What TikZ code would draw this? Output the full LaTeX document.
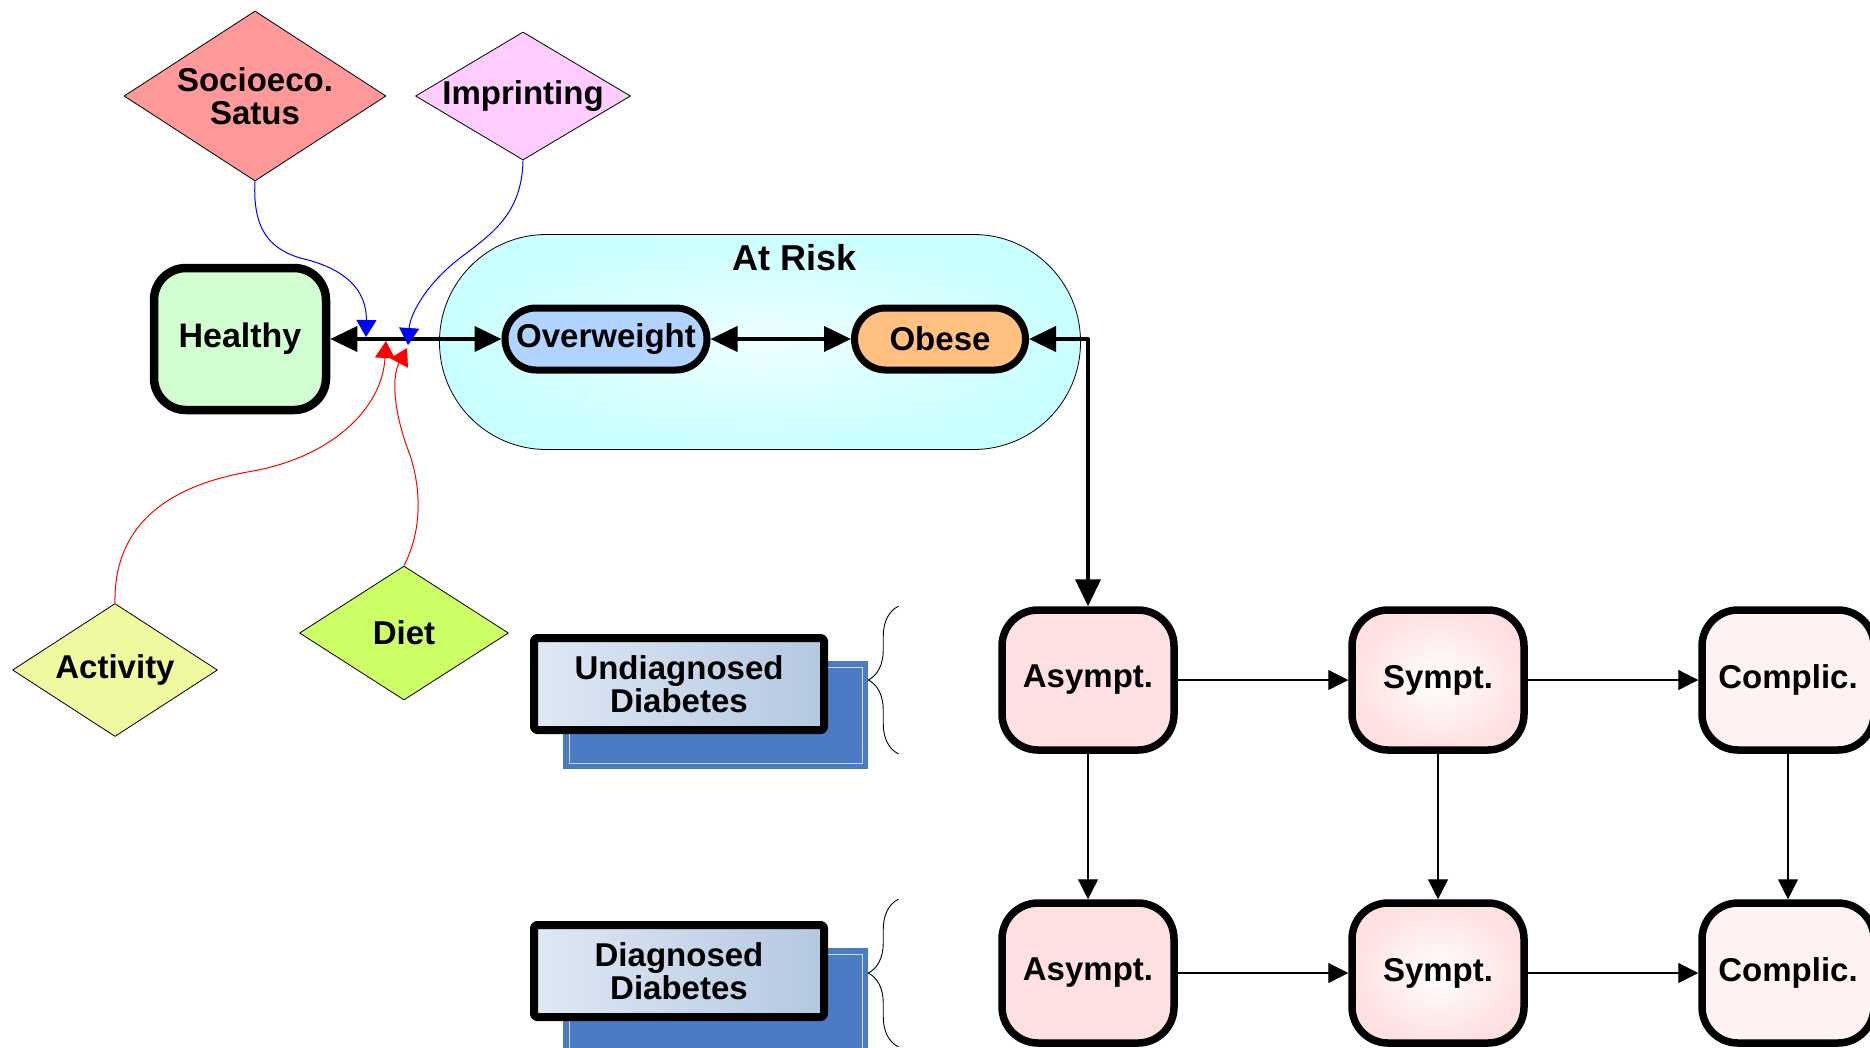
\documentclass[tikz,border=0pt]{standalone}
\usepackage{fontspec}
\setmainfont{Liberation Sans}
\usetikzlibrary{arrows.meta,calc,positioning,shapes.geometric,decorations.pathreplacing}
\definecolor{dmSocio}{HTML}{FF9999}
\definecolor{dmImprint}{HTML}{FFCCFF}
\definecolor{dmActive}{HTML}{F0F8A0}
\definecolor{dmDiet}{HTML}{CCFF66}
\definecolor{dmHealthy}{HTML}{D2FFD2}
\definecolor{dmCyan}{HTML}{C8FFFF}
\definecolor{dmOver}{HTML}{B0D4FF}
\definecolor{dmObese}{HTML}{FFC080}
\definecolor{dmPink}{HTML}{FFE0E0}
\definecolor{dmPale}{HTML}{FFF2F2}
\definecolor{dmSteelA}{HTML}{DFE8F4}
\definecolor{dmSteelB}{HTML}{B4C8E2}
\definecolor{dmBlue}{HTML}{4A7BC4}

\begin{document}
\begin{tikzpicture}[x=1pt,y=-1pt,line cap=round,line join=round]
\path[use as bounding box,fill=white] (0,0) rectangle (1870,1047);
\clip (0,0) rectangle (1870,1047);
\tikzset{lbl/.style={font=\bfseries\fontsize{33}{33}\selectfont,align=center},factor/.style={lbl,diamond,draw=black,line width=0.8pt,inner sep=0pt},statebox/.style={lbl,font=\bfseries\fontsize{34}{33}\selectfont,draw=black,line width=8.5pt,rounded corners=32pt},pill/.style={lbl,draw=black,line width=7pt,rounded corners=31pt,minimum height=62pt},stage/.style={lbl,draw=black,line width=7.5pt,rounded corners=36pt,minimum width=172pt,minimum height=140pt},groupbox/.style={lbl,draw=black,line width=8pt,rounded corners=3pt,minimum width=290pt,minimum height=92pt,left color=dmSteelA,right color=dmSteelB},twoway/.style={line width=4pt,line cap=butt,{Triangle[length=27pt,width=25pt]}-{Triangle[length=27pt,width=25pt]}},flow/.style={line width=1.2pt,line cap=butt,-{Triangle[length=20pt,width=20pt]}},push/.style={line width=1pt,line cap=butt,-{Triangle[length=17pt,width=20pt]}}}
\node[factor,fill=dmSocio,aspect=1.54,minimum width=262pt,minimum height=170pt] (socio) at (255,96) {Socioeco.\\Satus};
\node[factor,fill=dmImprint,aspect=1.68,minimum width=215pt,minimum height=128pt] (imprint) at (523,96) {Imprinting};
\node[factor,fill=dmActive,aspect=1.54,minimum width=205pt,minimum height=133pt] (activity) at (115,670) {Activity};
\node[factor,fill=dmDiet,aspect=1.56,minimum width=209pt,minimum height=134pt] (diet) at (404,633) {Diet};
\node[statebox,fill=dmHealthy,minimum width=172pt,minimum height=142pt] (healthy) at (240,339) {Healthy};
\node[draw=black,line width=0.8pt,rounded corners=107pt,minimum width=641pt,minimum height=215pt,inner color=white!70!dmCyan,outer color=dmCyan] (risk) at (760,342) {};
\node[font=\bfseries\fontsize{36}{36}\selectfont] (risklbl) at (795,258) {At Risk};
\node[pill,fill=dmOver,minimum width=202pt] (over) at (606,339) {Overweight};
\node[pill,fill=dmObese,minimum width=171pt] (obese) at (940,339) {Obese};
\node[stage,fill=dmPink] (asy1) at (1088,680) {Asympt.};
\node[stage,inner color=white,outer color=dmPink] (sym1) at (1438,680) {Sympt.};
\node[stage,fill=dmPale] (com1) at (1788,680) {Complic.};
\node[stage,fill=dmPink] (asy2) at (1088,973) {Asympt.};
\node[stage,inner color=white,outer color=dmPink] (sym2) at (1438,973) {Sympt.};
\node[stage,fill=dmPale] (com2) at (1788,973) {Complic.};
\fill[dmBlue] (563,661) rectangle (868,769);
\draw[white!80!dmBlue,densely dotted,line width=1pt] (569,667) rectangle (862,763);
\node[groupbox] (undiag) at (679,684) {Undiagnosed\\Diabetes};
\fill[dmBlue] (563,948) rectangle (868,1060);
\draw[white!80!dmBlue,densely dotted,line width=1pt] (569,954) rectangle (862,1054);
\node[groupbox] (diag) at (679,971) {Diagnosed\\Diabetes};
\draw[decorate,decoration={brace,amplitude=30pt},line width=0.9pt] ([xshift=-100pt]asy1.south west) -- ([xshift=-100pt]asy1.north west);
\draw[decorate,decoration={brace,amplitude=30pt},line width=0.9pt] ([xshift=-100pt]asy2.south west) -- ([xshift=-100pt]asy2.north west);
\draw[twoway] (healthy) -- (over);
\draw[twoway] (over) -- (obese);
\draw[twoway] (obese.east) -| (asy1.north);
\foreach \r in {1,2} {
  \draw[flow] (asy\r) -- (sym\r);
  \draw[flow] (sym\r) -- (com\r);
}
\foreach \c in {asy,sym,com}
  \draw[flow] (\c1) -- (\c2);
\coordinate (sesTip) at (366,337);
\coordinate (impTip) at (408,345);
\coordinate (actTip) at (386,341);
\coordinate (dietTip) at (407,348);
\draw[push,blue] (socio.south) .. controls (252,235) and (275,250) .. (300,258) .. controls (345,268) and (367,290) .. (sesTip);
\draw[push,blue] (imprint.south) .. controls (522,215) and (490,235) .. (460,258) .. controls (425,285) and (410,315) .. (impTip);
\draw[push,red] (activity.north) .. controls (113,505) and (200,480) .. (253,471) .. controls (330,457) and (382,410) .. (actTip);
\draw[push,red] (diet.north) .. controls (420,535) and (423,495) .. (410,455) .. controls (396,420) and (390,380) .. (dietTip);
\end{tikzpicture}
\end{document}
